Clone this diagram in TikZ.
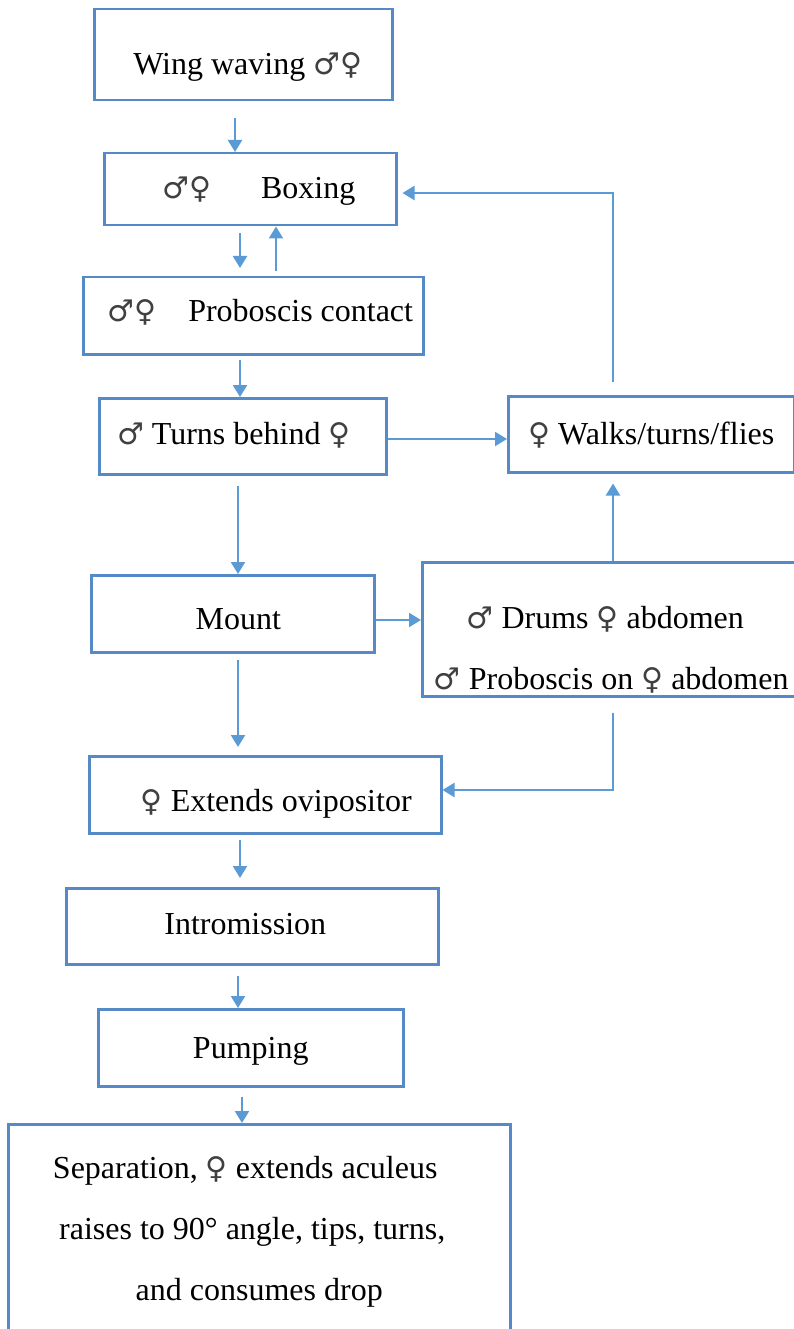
\documentclass[tikz,border=0pt]{standalone}
\usepackage{fontspec}
\setmainfont{Liberation Serif}
\newfontfamily\symfont{DejaVu Sans}
\newcommand{\msym}{{\color{black!75}\symfont\fontsize{30}{61}\selectfont ♂}}
\newcommand{\fsym}{{\color{black!75}\symfont\fontsize{30}{61}\selectfont ♀}}
\usetikzlibrary{arrows.meta}
\definecolor{boxblue}{RGB}{86,138,199}
\definecolor{arrowblue}{RGB}{91,155,213}
\begin{document}
\begin{tikzpicture}[x=1pt,y=-1pt,
  box/.style={draw=boxblue, line width=2.5pt, inner sep=0pt, anchor=north west,
              font=\fontsize{32}{61}\selectfont},
  arr/.style={draw=arrowblue, line width=2.2pt, -{Triangle[length=12pt,width=14pt]}}]
\useasboundingbox (0,0) rectangle (794,1329);
\clip (0,0) rectangle (794,1329);
\fill[white] (0,0) rectangle (794,1329);

% column / row helpers
\coordinate (c235) at (235,0);
\coordinate (c238) at (238,0);
\coordinate (c240) at (240,0);
\coordinate (c242) at (242,0);
\coordinate (c276) at (276,0);
\coordinate (c613) at (613,0);
\coordinate (r193) at (0,193);
\coordinate (r439) at (0,439);
\coordinate (r620) at (0,620);
\coordinate (r790) at (0,790);

% boxes
\node[box, minimum width=298pt, text height=65pt, text depth=26pt] (b1) at (93,8)
  {\hspace*{9pt}Wing waving \msym\fsym};
\node[box, minimum width=292pt, text height=45pt, text depth=27pt] (b2) at (103,152)
  {\hspace*{17pt}\msym\fsym\hspace{50pt}Boxing};
\node[box, minimum width=340pt, text height=44pt, text depth=33pt] (b3) at (82,276)
  {\hspace*{14pt}\msym\fsym\hspace{32pt}Proboscis contact};
\node[box, minimum width=287pt, text height=46pt, text depth=30pt] (b4) at (98,397)
  {\msym\ Turns behind \fsym\hspace*{18pt}};
\node[box, minimum width=286pt, text height=48pt, text depth=28pt] (b5) at (507,395)
  {\fsym\ Walks/turns/flies};
\node[box, minimum width=283pt, text height=54pt, text depth=23pt] (b6) at (90,574)
  {\hspace*{11pt}Mount};
\node[box, minimum width=378pt, text height=66pt, text depth=68pt] (b7) at (421,561)
  {\begin{tabular}[t]{@{}c@{}}\msym\ Drums \fsym\ abdomen\hspace*{12pt}\\\msym\ Proboscis on \fsym\ abdomen\end{tabular}};
\node[box, minimum width=352pt, text height=55pt, text depth=22pt] (b8) at (88,755)
  {\hspace*{22pt}\fsym\ Extends ovipositor};
\node[box, minimum width=372pt, text height=46pt, text depth=30pt] (b9) at (65,887)
  {Intromission\hspace*{14pt}};
\node[box, minimum width=305pt, text height=49pt, text depth=28pt] (b10) at (97,1008)
  {Pumping};
\node[box, minimum width=502pt, text height=54pt, text depth=200pt] (b11) at (7,1123)
  {\begin{tabular}[t]{@{}c@{}}Separation, \fsym\ extends aculeus\hspace*{28pt}\\
   raises to 90° angle, tips, turns,\hspace*{14pt}\\
   and consumes drop\end{tabular}};

% connectors
\draw[arr, shorten <=17pt] (b1.south -| c235) -- (b2.north -| c235);
\draw[arr, shorten <=7pt, shorten >=8pt] (b2.south -| c240) -- (b3.north -| c240);
\draw[arr, shorten <=5pt] (b3.north -| c276) -- (b2.south -| c276);
\draw[arr, shorten <=4pt] (b3.south -| c240) -- (b4.north -| c240);
\draw[arr] (b4.east |- r439) -- (b5.west |- r439);
\draw[arr, shorten <=13pt, shorten >=5pt] (b5.north -| c613) |- (b2.east |- r193);
\draw[arr, shorten <=10pt] (b4.south -| c238) -- (b6.north -| c238);
\draw[arr] (b6.east |- r620) -- (b7.west |- r620);
\draw[arr, shorten >=10pt] (b7.north -| c613) -- (b5.south -| c613);
\draw[arr, shorten <=6pt, shorten >=8pt] (b6.south -| c238) -- (b8.north -| c238);
\draw[arr, shorten <=15pt] (b7.south -| c613) |- (b8.east |- r790);
\draw[arr, shorten <=5pt, shorten >=9pt] (b8.south -| c240) -- (b9.north -| c240);
\draw[arr, shorten <=10pt] (b9.south -| c238) -- (b10.north -| c238);
\draw[arr, shorten <=9pt] (b10.south -| c242) -- (b11.north -| c242);
\end{tikzpicture}
\end{document}
